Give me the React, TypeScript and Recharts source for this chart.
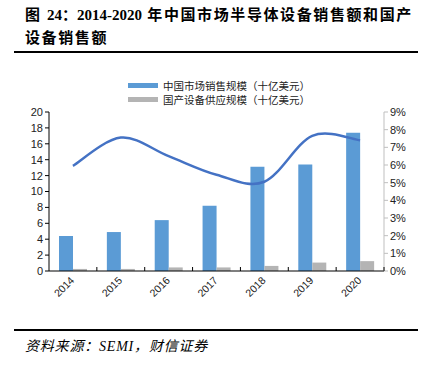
import {
  ComposedChart,
  Bar,
  Line,
  XAxis,
  YAxis,
} from "recharts";

const years = ["2014", "2015", "2016", "2017", "2018", "2019", "2020"];
const marketSales = [4.4, 4.9, 6.4, 8.2, 13.1, 13.4, 17.4];
const domesticSupply = [0.26, 0.26, 0.45, 0.45, 0.64, 1.06, 1.24];
const domesticShare = [5.95, 7.55, 6.5, 5.45, 5.05, 7.65, 7.4];
const leftTicks = [0, 2, 4, 6, 8, 10, 12, 14, 16, 18, 20];
const rightTicks = [0, 1, 2, 3, 4, 5, 6, 7, 8, 9];

const seriesNames = ["中国市场销售规模（十亿美元）", "国产设备供应规模（十亿美元）"];

const data = years.map((year, i) => ({
  year,
  market: marketSales[i],
  domestic: domesticSupply[i],
  share: domesticShare[i],
}));

const BLUE = "#5B9BD5";
const GRAY = "#B4B4B4";
const LINE = "#4472C4";
const axisFont = "'Liberation Sans', Arial, sans-serif";
const cjkFont = "'Noto Sans CJK SC', sans-serif";
const serifFont = "'Liberation Serif', 'Noto Sans CJK SC', serif";

// Excel-style smoothed line: uniform Catmull-Rom through every point
function smoothCurve(context: any) {
  let pts: [number, number][] = [];
  return {
    areaStart() {},
    areaEnd() {},
    lineStart() {
      pts = [];
    },
    point(x: number, y: number) {
      pts.push([+x, +y]);
    },
    lineEnd() {
      if (!pts.length) return;
      context.moveTo(pts[0][0], pts[0][1]);
      for (let i = 0; i < pts.length - 1; i++) {
        const p0 = pts[i - 1] || pts[i];
        const p1 = pts[i];
        const p2 = pts[i + 1];
        const p3 = pts[i + 2] || p2;
        context.bezierCurveTo(
          p1[0] + (p2[0] - p0[0]) / 6,
          p1[1] + (p2[1] - p0[1]) / 6,
          p2[0] - (p3[0] - p1[0]) / 6,
          p2[1] - (p3[1] - p1[1]) / 6,
          p2[0],
          p2[1]
        );
      }
    },
  };
}

// category label rotated -45deg, plus a small tick mark at each band boundary
function YearTick(props: any) {
  const { x, y, payload } = props;
  const half = payload.offset || 24;
  return (
    <g>
      <line x1={x + half} y1={y - 4} x2={x + half} y2={y} stroke="#000" strokeWidth={1} />
      <text
        x={x + 2}
        y={y + 10}
        textAnchor="end"
        fontSize={10.5}
        fontFamily={axisFont}
        fill="#222"
        transform={`rotate(-45, ${x + 2}, ${y + 10})`}
      >
        {payload.value}
      </text>
    </g>
  );
}

export default function App() {
  return (
    <div
      style={{
        position: "absolute",
        left: 0,
        top: 0,
        width: 427,
        height: 369,
        background: "#fff",
        overflow: "hidden",
      }}
    >
      <div
        style={{
          position: "absolute",
          left: 25,
          top: 4,
          width: 395,
          fontFamily: serifFont,
          fontWeight: 700,
          fontSize: 15,
          lineHeight: "23px",
          letterSpacing: 1.6,
          whiteSpace: "nowrap",
          color: "#000",
        }}
      >
        图 <span style={{ letterSpacing: 0 }}>24：2014-2020</span> 年中国市场半导体设备销售额和国产
        <br />
        设备销售额
      </div>
      <div
        style={{
          position: "absolute",
          left: 14,
          top: 51,
          width: 404,
          height: 2,
          background: "#000",
        }}
      />

      <div style={{ position: "absolute", left: 0, top: 60 }}>
        <ComposedChart
          width={427}
          height={250}
          data={data}
          margin={{ top: 52, right: 13, left: 19, bottom: 9 }}
          barSize={14}
          barGap={0}
        >
          <XAxis
            dataKey="year"
            xAxisId="x"
            height={30}
            stroke="#000"
            tickLine={false}
            tickSize={0}
            tickMargin={0}
            interval={0}
            tick={<YearTick />}
          />
          <YAxis
            yAxisId="left"
            domain={[0, 20]}
            ticks={leftTicks}
            width={30}
            stroke="#000"
            tickSize={4}
            tick={{ fontSize: 11, fontFamily: axisFont, fill: "#222" }}
            interval={0}
          />
          <YAxis
            yAxisId="right"
            orientation="right"
            domain={[0, 9]}
            ticks={rightTicks}
            width={30}
            stroke="#BFBFBF"
            tickSize={4}
            tickFormatter={(v: number) => `${v}%`}
            tick={{ fontSize: 11, fontFamily: axisFont, fill: "#222" }}
            interval={0}
          />
          <Bar
            dataKey="market"
            xAxisId="x"
            yAxisId="left"
            fill={BLUE}
            isAnimationActive={false}
          />
          <Bar
            dataKey="domestic"
            xAxisId="x"
            yAxisId="left"
            fill={GRAY}
            isAnimationActive={false}
          />
          <Line
            dataKey="share"
            xAxisId="x"
            yAxisId="right"
            type={smoothCurve as any}
            stroke={LINE}
            strokeWidth={2.5}
            dot={false}
            isAnimationActive={false}
          />
        </ComposedChart>
      </div>

      {seriesNames.map((name, i) => (
        <div
          key={name}
          style={{
            position: "absolute",
            left: 128,
            top: 78 + i * 14,
            height: 14,
            display: "flex",
            alignItems: "center",
            fontFamily: cjkFont,
            fontSize: 10.5,
            whiteSpace: "nowrap",
            color: "#222",
          }}
        >
          <span
            style={{
              display: "inline-block",
              width: 30,
              height: 5,
              background: i === 0 ? BLUE : GRAY,
              marginRight: 5,
            }}
          />
          {name}
        </div>
      ))}

      <div
        style={{
          position: "absolute",
          left: 14,
          top: 329,
          width: 404,
          height: 2,
          background: "#000",
        }}
      />
      <div
        style={{
          position: "absolute",
          left: 25,
          top: 335,
          fontFamily: serifFont,
          fontStyle: "italic",
          fontSize: 14,
          letterSpacing: 0.8,
          color: "#000",
        }}
      >
        资料来源：SEMI，财信证券
      </div>
    </div>
  );
}
